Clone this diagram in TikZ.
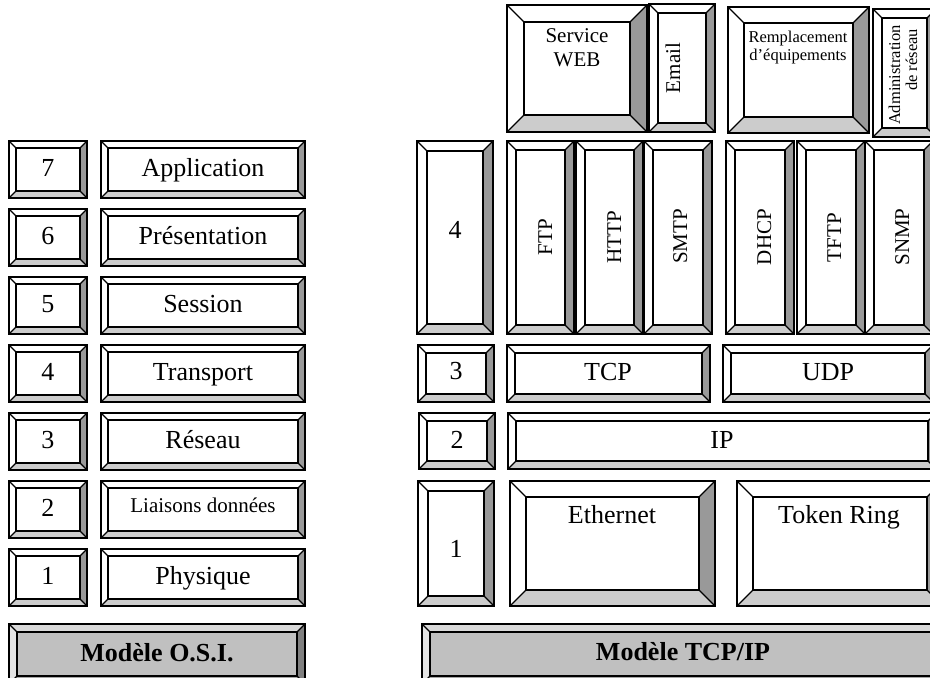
\documentclass[tikz,border=0pt]{standalone}
\usepackage{fontspec}
\setmainfont{Liberation Serif}
\definecolor{faceR}{HTML}{999999}
\definecolor{faceB}{HTML}{CCCCCC}
\definecolor{modC}{HTML}{C0C0C0}
\definecolor{modT}{HTML}{D9D9D9}
\definecolor{modL}{HTML}{E4E4E4}
\definecolor{modR}{HTML}{808080}
\definecolor{modB}{HTML}{A6A6A6}
\newcommand\plainbev{\colorlet{bvC}{white}\colorlet{bvT}{white}\colorlet{bvL}{white}\colorlet{bvR}{faceR}\colorlet{bvB}{faceB}}
\newcommand\graybev{\colorlet{bvC}{modC}\colorlet{bvT}{modT}\colorlet{bvL}{modL}\colorlet{bvR}{modR}\colorlet{bvB}{modB}}
\newcommand\bvl[5]{%
 \fill[bvC] (#1,#2) rectangle (#3,#4);
 \fill[bvT] (#1,#2) -- (#3,#2) -- (#3-#5,#2+#5) -- (#1+#5,#2+#5) -- cycle;
 \fill[bvL] (#1,#2) -- (#1+#5,#2+#5) -- (#1+#5,#4-#5) -- (#1,#4) -- cycle;
 \fill[bvR] (#3,#2) -- (#3,#4) -- (#3-#5,#4-#5) -- (#3-#5,#2+#5) -- cycle;
 \fill[bvB] (#1,#4) -- (#3,#4) -- (#3-#5,#4-#5) -- (#1+#5,#4-#5) -- cycle;
 \draw[diag] (#1,#2) -- (#1+#5,#2+#5) (#3,#2) -- (#3-#5,#2+#5) (#3,#4) -- (#3-#5,#4-#5) (#1,#4) -- (#1+#5,#4-#5);
 \draw[edge] (#1,#2) rectangle (#3,#4) (#1+#5,#2+#5) rectangle (#3-#5,#4-#5);
}
\begin{document}
\begin{tikzpicture}[x=1pt,y=-1pt,
  edge/.style={line width=1.9pt,line join=miter},
  diag/.style={line width=1.1pt},
  big/.style={font=\fontsize{26}{28}\selectfont,inner sep=0pt,anchor=base},
  bigb/.style={font=\fontsize{26}{28}\selectfont\bfseries,inner sep=0pt,anchor=base},
  mid/.style={font=\fontsize{21}{24}\selectfont,inner sep=0pt,align=center},
  midr/.style={font=\fontsize{21}{24}\selectfont,inner sep=0pt,anchor=base,rotate=90},
  small/.style={font=\fontsize{16.5}{17.5}\selectfont,inner sep=0pt,align=center},
  smallr/.style={font=\fontsize{16.5}{17.5}\selectfont,inner sep=0pt,anchor=base,rotate=90}]
\useasboundingbox (0,0) rectangle (930,678);
\clip (0,0) rectangle (930,678);
\plainbev
% ---------- O.S.I. column ----------
\foreach \n/\lab [count=\k from 0] in {7/Application,6/Présentation,5/Session,4/Transport,3/Réseau,2/{},1/Physique}{
  \pgfmathsetmacro\yt{141+68*\k}
  \pgfmathsetmacro\yb{\yt+57}
  \bvl{9}{\yt}{87}{\yb}{7}
  \bvl{101}{\yt}{305}{\yb}{7}
  \node[big] (osinum\n) at (48,\yt+35) {\n};
  \node[big] (osilab\n) at (203,\yt+35) {\lab};
}
\node[mid,anchor=base] (osilab2b) at (203,512) {Liaisons données};
\graybev
\bvl{9}{624}{305}{684}{8}
\node[bigb] (osititle) at (157,661) {Modèle O.S.I.};
% ---------- TCP/IP ----------
\plainbev
% applications on top
\bvl{507}{5}{647}{132}{17}
\node[mid] (web) at (577,48) {Service\\WEB};
\bvl{649}{4}{715}{132}{9}
\node[midr] (email) at (680,68) {Email};
\bvl{728}{7}{869}{133}{16}
\node[small] (rempl) at (798,47.5) {Remplacement\\d’équipements};
\bvl{873}{9}{936}{137}{9}
\node[smallr] (admin1) at (900,75) {Administration};
\node[smallr] (admin2) at (917,60) {de réseau};
% layer 4
\bvl{417}{141}{493}{334}{10}
\node[big] (tnum4) at (455,238) {4};
\bvl{507}{141}{574}{334}{9}
\node[midr] (ftp) at (552,237) {FTP};
\bvl{576}{141}{643}{334}{9}
\node[midr] (http) at (621,237.5) {HTTP};
\bvl{644}{141}{712}{334}{9}
\node[midr] (smtp) at (687,236.5) {SMTP};
\bvl{726}{141}{794}{334}{9}
\node[midr] (dhcp) at (771,237) {DHCP};
\bvl{797}{141}{865}{334}{9}
\node[midr] (tftp) at (841,237.5) {TFTP};
\bvl{865}{141}{933}{334}{9}
\node[midr] (snmp) at (909,237) {SNMP};
% layer 3
\bvl{418}{345}{494}{402}{8}
\node[big] (tnum3) at (456,379) {3};
\bvl{507}{345}{710}{402}{8}
\node[big] (tcp) at (608,380) {TCP};
\bvl{723}{345}{933}{402}{8}
\node[big] (udp) at (828,380) {UDP};
% layer 2
\bvl{419}{413}{495}{469}{8}
\node[big] (tnum2) at (457,448) {2};
\bvl{508}{413}{936}{469}{8}
\node[big] (ip) at (722,448) {IP};
% layer 1
\bvl{418}{481}{494}{606}{10}
\node[big] (tnum1) at (456,557) {1};
\bvl{510}{481}{715}{606}{16}
\node[big] (eth) at (612,523) {Ethernet};
\bvl{737}{481}{943}{606}{16}
\node[big] (tok) at (839,523) {Token Ring};
\graybev
\bvl{422}{624}{944}{684}{8}
\node[bigb] (tcptitle) at (683,660) {Modèle TCP/IP};
\end{tikzpicture}
\end{document}
